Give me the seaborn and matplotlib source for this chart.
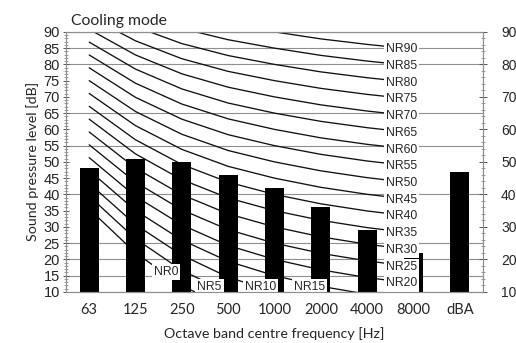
import numpy as np
import pandas as pd
import matplotlib
matplotlib.use("Agg")
import matplotlib.pyplot as plt
from matplotlib.ticker import MultipleLocator
import seaborn as sns

bands = ['63', '125', '250', '500', '1000', '2000', '4000', '8000', 'dBA']
levels = [48, 51, 50, 46, 42, 36, 29, 22, 47]

# NR curve coefficients per octave band (63 ... 8000 Hz): L = a + b * NR
nr_a = [35.5, 22.0, 12.0, 4.8, 0.0, -3.5, -6.1, -8.0]
nr_b = [0.790, 0.870, 0.930, 0.974, 1.000, 1.015, 1.025, 1.030]
nr_ratings = list(range(0, 95, 5))

# horizontal grid lines visible in the chart
grid_levels = [10, 15, 20, 25, 40, 55, 65, 80, 85, 90]

sns.set_style("white")
plt.rcParams['font.family'] = ['Liberation Sans', 'DejaVu Sans']
calibri_like = ['Lato', 'DejaVu Sans']

fig = plt.figure(figsize=(5.16, 3.43), dpi=100)
ax = fig.add_axes([0.128, 0.149, 0.808, 0.758])

# grid
for g in grid_levels:
    ax.axhline(g, color='#8f8f8f', lw=0.8, zorder=0.5)

# NR curves
rows = []
for nr in nr_ratings:
    for i in range(8):
        rows.append({'pos': i, 'NR': nr, 'level': nr_a[i] + nr_b[i] * nr})
nr_df = pd.DataFrame(rows)
sns.lineplot(data=nr_df, x='pos', y='level', hue='NR', palette=['#111111'] * len(nr_ratings),
             legend=False, lw=0.95, ax=ax, zorder=1, sort=False, estimator=None)

# bars
sns.barplot(x=bands, y=levels, color='black', width=0.41, ax=ax, zorder=2,
            saturation=1, edgecolor='black', linewidth=0)

# NR labels
box = dict(facecolor='white', edgecolor='none', pad=1.5)
for nr in nr_ratings:
    if nr >= 20:
        y = nr_a[7] + nr_b[7] * nr
        ax.text(6.74, y, f'NR{nr}', ha='center', va='center', fontsize=8.8, bbox=box, zorder=4)
low_pos = {0: (1.66, 16.0), 5: (2.6, 11.6), 10: (3.7, 11.4), 15: (4.75, 11.4)}
for nr, (x, y) in low_pos.items():
    ax.text(x, y, f'NR{nr}', ha='center', va='center', fontsize=8.8, bbox=box, zorder=4)

ax.set_xlim(-0.5, 8.5)
ax.set_ylim(10, 90)
ax.yaxis.set_major_locator(MultipleLocator(5))
ax.yaxis.set_minor_locator(MultipleLocator(1))
ax.tick_params(axis='y', which='major', direction='inout', length=5, width=0.7,
               color='#555555', labelsize=10.5, pad=2)
ax.tick_params(axis='y', which='minor', direction='inout', length=2.5, width=0.5, color='#777777')
ax.tick_params(axis='x', length=0, pad=8)
for lab in ax.get_xticklabels():
    lab.set_family(calibri_like)
    lab.set_fontsize(10.5)
for s in ax.spines.values():
    s.set_color('#8f8f8f')
    s.set_linewidth(0.8)

ax.set_xlabel('Octave band centre frequency [Hz]', family=calibri_like, fontsize=10.3, labelpad=7)
ax.set_ylabel('Sound pressure level [dB]', family=calibri_like, fontsize=10.3, labelpad=3)
ax.set_title('Cooling mode', family=calibri_like, fontsize=11.3, loc='left', x=0.012, pad=5)

# right axis
ax2 = ax.twinx()
ax2.set_ylim(10, 90)
ax2.yaxis.set_major_locator(MultipleLocator(10))
ax2.yaxis.set_minor_locator(MultipleLocator(2))
ax2.tick_params(axis='y', which='major', direction='inout', length=6, width=0.7,
                color='#555555', labelsize=10, pad=10)
ax2.tick_params(axis='y', which='minor', direction='inout', length=3, width=0.5, color='#777777')
for s in ax2.spines.values():
    s.set_color('#8f8f8f')
    s.set_linewidth(0.8)

fig.savefig('out.png', dpi=100)
